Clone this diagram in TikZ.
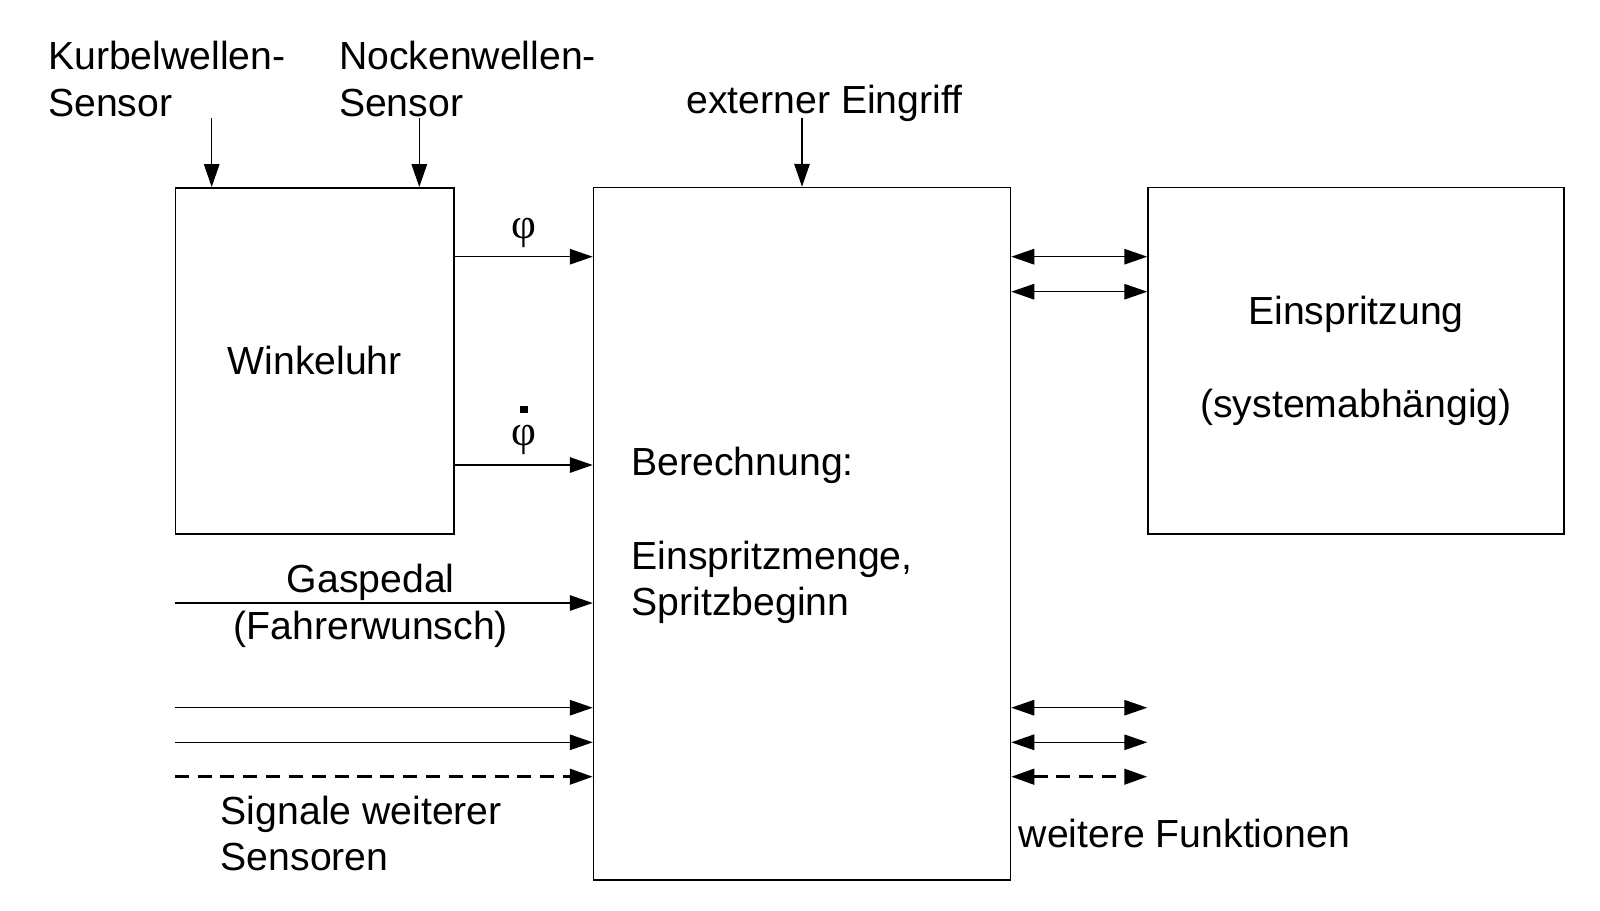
\documentclass[tikz,border=0pt]{standalone}
\usepackage{fontspec}
\setmainfont{Liberation Sans}
\newfontfamily\phifont{Liberation Serif}
\usetikzlibrary{arrows.meta}

\newcommand\lblfont{\fontsize{22.3pt}{26.5pt}\selectfont}
\def\lskip{26.5pt}

\begin{document}
\begin{tikzpicture}[
    x=0.02cm, y=-0.02cm,
    block/.style={draw, line width=0.85pt, inner sep=0pt, font=\lblfont},
    sig/.style={line width=0.85pt, -{Triangle[length=0.46cm,width=0.31cm]}},
    bisig/.style={line width=0.85pt,
        {Triangle[length=0.46cm,width=0.31cm]}-{Triangle[length=0.46cm,width=0.31cm]}},
    dashsig/.style={line width=1.6pt, dash pattern=on 8pt off 5pt},
    txt/.style={font=\lblfont, inner sep=0pt},
    phitxt/.style={font=\phifont\fontsize{24.5pt}{18.6pt}\selectfont, inner sep=0pt, align=center}
]

% Canvas
\useasboundingbox (0,0) rectangle (1600,910);

% Row heights of the signals
\coordinate (rPhi)  at (0,256.7);
\coordinate (rPhiB) at (0,291.7);
\coordinate (rDot)  at (0,465);
\coordinate (rGas)  at (0,603);
\coordinate (rS1)   at (0,707.7);
\coordinate (rS2)   at (0,742.3);
\coordinate (rS3)   at (0,776.7);

% ============================================================
% Blocks
% ============================================================
\node[block, minimum width=278.5*0.02cm, minimum height=346*0.02cm]
    (wu) at (314.75,360.75) {Winkeluhr};
\node[block, minimum width=417*0.02cm, minimum height=692.5*0.02cm]
    (ber) at (802,533.75) {};
\node[block, minimum width=416*0.02cm, minimum height=346.5*0.02cm, align=center]
    (ein) at (1356,360.75) {Einspritzung\\[\lskip](systemabhängig)};

\node[txt, anchor=north west, align=left] (berTxt) at (631.3,447.2)
    {Berechnung:\\[\lskip]Einspritzmenge,\\Spritzbeginn};

% ============================================================
% Inputs from above
% ============================================================
\node[txt, anchor=north west, align=left] (kws) at (47.8,40.8) {Kurbelwellen-\\Sensor};
\node[txt, anchor=north west, align=left] (nws) at (338.7,40.8) {Nockenwellen-\\Sensor};
\node[txt, anchor=north west] (ext) at (686.2,85.1) {externer Eingriff};

\coordinate (kwsOut) at (211.7,118.3);
\coordinate (nwsOut) at (419.3,118.3);
\coordinate (extOut) at (802,118.3);

\draw[sig] (kwsOut) -- (kwsOut |- wu.north);
\draw[sig] (nwsOut) -- (nwsOut |- wu.north);
\draw[sig] (extOut) -- (ber.north);

% ============================================================
% Winkeluhr -> Berechnung
% ============================================================
\draw[sig] (wu.east |- rPhi) -- (ber.west |- rPhi);
\draw[sig] (wu.east |- rDot) -- (ber.west |- rDot);

\node[phitxt, anchor=south] (phi) at (524,248.3) {φ};
\node[phitxt, anchor=south] (phiDot) at (524,455) {\rule{0.15cm}{0.14cm}\\φ};

% ============================================================
% Further inputs on the left
% ============================================================
\draw[sig] (wu.west |- rGas) -- (ber.west |- rGas);
\node[txt, anchor=north, align=center] (gas) at (370.8,564) {Gaspedal\\(Fahrerwunsch)};

\foreach \r in {rS1,rS2} {
    \draw[sig] (wu.west |- \r) -- (ber.west |- \r);
}
\draw[sig, dashsig] (wu.west |- rS3) -- (ber.west |- rS3);

\node[txt, anchor=north west, align=left] (sig) at (220.5,795.5) {Signale weiterer\\Sensoren};

% ============================================================
% Outputs on the right
% ============================================================
\foreach \r in {rPhi,rPhiB,rS1,rS2} {
    \draw[bisig] (ber.east |- \r) -- (ein.west |- \r);
}
\draw[bisig, dashsig] (ber.east |- rS3) -- (ein.west |- rS3);

\node[txt, anchor=north west] (wf) at (1018.5,819) {weitere Funktionen};
\end{tikzpicture}
\end{document}
